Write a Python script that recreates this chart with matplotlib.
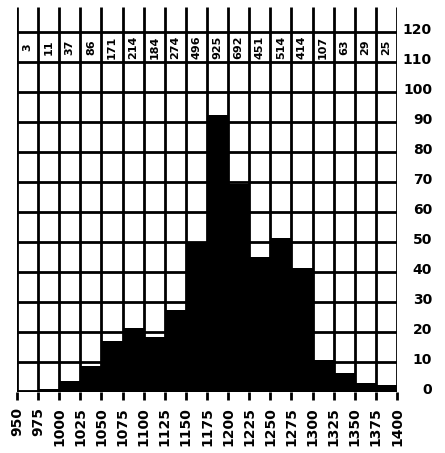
import matplotlib
matplotlib.use("Agg")
import matplotlib.pyplot as plt
import matplotlib.transforms as mtransforms

# ---- data ----
bin_edges = [950, 975, 1000, 1025, 1050, 1075, 1100, 1125, 1150, 1175,
             1200, 1225, 1250, 1275, 1300, 1325, 1350, 1375, 1400]
counts = [3, 11, 37, 86, 171, 214, 184, 274, 496, 925,
          692, 451, 514, 414, 107, 63, 29, 25]
y_tick_values = [0, 10, 20, 30, 40, 50, 60, 70, 80, 90, 100, 110, 120]
x_tick_labels = [str(e) for e in bin_edges]

W, H = 445, 453
fig = plt.figure(figsize=(W / 100, H / 100), dpi=100)
fig.patch.set_facecolor("white")

# axes: x from 17px to 397px ; y=0 at 392px from top, 3 px per unit
y_top = 128.5
ax = fig.add_axes([17 / W, (H - 392) / H, 380 / W, (y_top * 3) / H])
ax.set_xlim(bin_edges[0], bin_edges[-1])
ax.set_ylim(0, y_top)
for s in ax.spines.values():
    s.set_visible(False)

# histogram bars (height in units of 10 counts)
lefts = bin_edges[:-1]
widths = [b - a for a, b in zip(bin_edges[:-1], bin_edges[1:])]
heights = [c / 10 for c in counts]
ax.bar(lefts, heights, width=widths, align="edge", color="black",
       edgecolor="black", linewidth=0, zorder=2)

# grid
ax.vlines(bin_edges, 0, y_top, colors="black", linewidth=2.0, zorder=3)
ax.hlines(y_tick_values, bin_edges[0], bin_edges[-1], colors="black",
          linewidth=2.0, zorder=3)
ax.hlines([0], bin_edges[0], bin_edges[-1], colors="black",
          linewidth=3.5, zorder=3)

# count labels in the top row
for a, b, c in zip(bin_edges[:-1], bin_edges[1:], counts):
    ax.text((a + b) / 2, 115, str(c), rotation=90, ha="center", va="center",
            fontsize=8, fontweight="bold", zorder=4)

# bottom ticks and labels
ax.set_xticks(bin_edges)
ax.set_xticklabels(x_tick_labels, rotation=90, fontsize=10,
                   fontweight="bold", va="top", ha="center")
ax.tick_params(axis="x", length=6, width=2, direction="out", pad=5)
ax.set_yticks([])

# right-side value labels
trans = mtransforms.blended_transform_factory(fig.transFigure, ax.transData)
for v in y_tick_values:
    ax.text(432 / W, v + 0.8, str(v), transform=trans, ha="right",
            va="center", fontsize=10, fontweight="bold", clip_on=False)

fig.savefig("out.png", dpi=100, facecolor="white")
